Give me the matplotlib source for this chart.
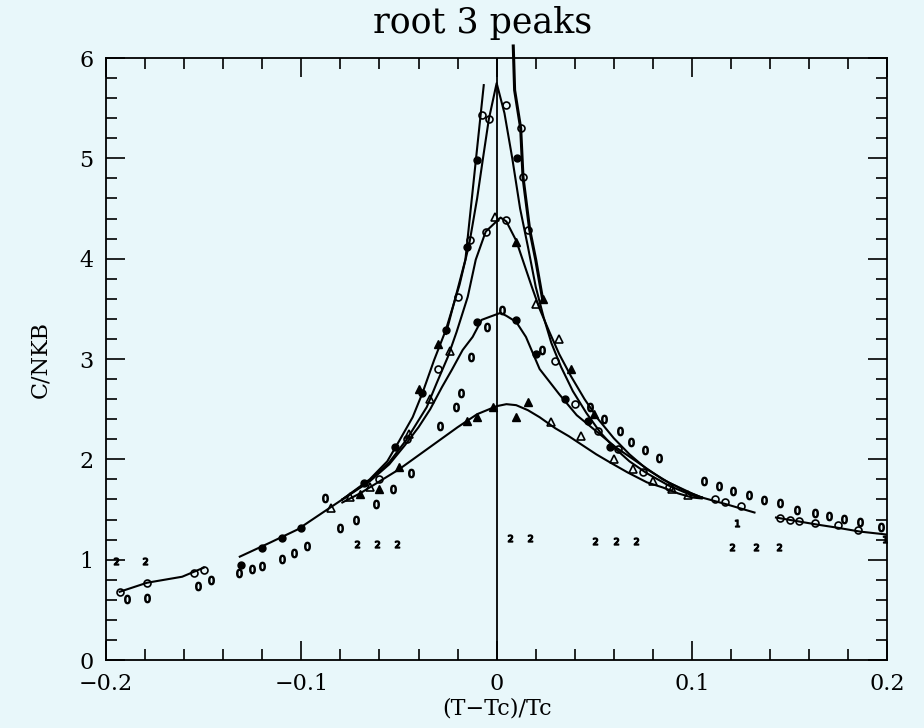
import numpy as np
import matplotlib.pyplot as plt

# smooth curves (x = (T-Tc)/Tc, y = C/NKB)
wing_left1_x = [-0.193, -0.179, -0.161, -0.150]
wing_left1_y = [0.68, 0.77, 0.83, 0.92]
wing_left2_x = [-0.1315, -0.116, -0.102, -0.089, -0.079]
wing_left2_y = [1.03, 1.17, 1.30, 1.47, 1.60]
wing_right1_x = [0.105, 0.118, 0.132]
wing_right1_y = [1.62, 1.55, 1.47]
wing_right2_x = [0.143, 0.164, 0.174, 0.186, 0.200]
wing_right2_y = [1.42, 1.35, 1.32, 1.28, 1.25]

a1_x = [-0.079, -0.065, -0.056, -0.050, -0.043, -0.038, -0.032, -0.026, -0.019,
        -0.014, -0.010, -0.007, -0.004, 0.0, 0.004, 0.008, 0.012, 0.016, 0.020,
        0.024, 0.028, 0.033, 0.039, 0.046, 0.053, 0.060, 0.068, 0.077, 0.088,
        0.100, 0.105]
a1_y = [1.60, 1.80, 1.98, 2.18, 2.42, 2.66, 2.99, 3.29, 3.74,
        4.15, 4.60, 5.00, 5.39, 5.75, 5.45, 5.00, 4.50, 4.12, 3.72,
        3.42, 3.16, 2.92, 2.68, 2.46, 2.27, 2.12, 1.98, 1.86, 1.74,
        1.64, 1.62]

a2_left_x = [-0.026, -0.016, -0.0066]
a2_left_y = [3.25, 3.99, 5.73]
a2_right_x = [0.0085, 0.0092, 0.0123, 0.0135, 0.0169, 0.020, 0.0235]
a2_right_y = [6.12, 5.68, 5.30, 4.81, 4.29, 3.99, 3.60]

b_x = [-0.079, -0.065, -0.055, -0.046, -0.0358, -0.0307, -0.025, -0.0205,
       -0.0148, -0.0107, -0.0056, 0.002, 0.005, 0.010, 0.014, 0.018, 0.022,
       0.027, 0.032, 0.038, 0.045, 0.052, 0.060, 0.068, 0.077, 0.088, 0.100, 0.105]
b_y = [1.60, 1.79, 1.97, 2.20, 2.52, 2.76, 3.02, 3.27,
       3.62, 3.99, 4.27, 4.41, 4.37, 4.18, 3.95, 3.72, 3.50,
       3.27, 3.05, 2.83, 2.60, 2.40, 2.21, 2.05, 1.90, 1.77, 1.66, 1.62]

c_x = [-0.079, -0.065, -0.055, -0.047, -0.040, -0.034, -0.028, -0.023, -0.0174,
       -0.0123, -0.0077, -0.0036, 0.002, 0.005, 0.010, 0.015, 0.022, 0.032,
       0.041, 0.051, 0.061, 0.073, 0.085, 0.097, 0.105]
c_y = [1.60, 1.78, 1.95, 2.14, 2.32, 2.50, 2.72, 2.89, 3.09,
       3.22, 3.39, 3.42, 3.46, 3.43, 3.37, 3.22, 2.90, 2.65,
       2.44, 2.28, 2.12, 1.96, 1.80, 1.68, 1.62]

d_x = [-0.079, -0.070, -0.060, -0.050, -0.040, -0.030, -0.020, -0.010, 0.0,
       0.005, 0.010, 0.016, 0.022, 0.030, 0.037, 0.044, 0.051, 0.058, 0.067,
       0.077, 0.085, 0.093, 0.100, 0.105]
d_y = [1.57, 1.66, 1.78, 1.90, 2.04, 2.18, 2.32, 2.45, 2.53,
       2.55, 2.54, 2.49, 2.42, 2.31, 2.23, 2.14, 2.05, 1.97, 1.87,
       1.77, 1.72, 1.66, 1.62, 1.61]

# data symbols
open_circ_x = [-0.0077, -0.004, 0.005, 0.0123, 0.0133, 0.016, -0.0138, -0.0056, 0.005,
               -0.020, -0.030, 0.030, 0.040, 0.052, 0.062, -0.046, -0.060, 0.075,
               -0.193, -0.179, -0.155, -0.150, 0.088, 0.112, 0.117, 0.125, 0.145,
               0.150, 0.155, 0.163, 0.175, 0.185]
open_circ_y = [5.43, 5.39, 5.53, 5.30, 4.81, 4.29, 4.19, 4.27, 4.39,
               3.62, 2.90, 2.98, 2.55, 2.28, 2.10, 2.20, 1.80, 1.87,
               0.68, 0.77, 0.87, 0.90, 1.72, 1.60, 1.57, 1.53, 1.42,
               1.40, 1.39, 1.37, 1.35, 1.30]
fill_circ_x = [-0.0102, -0.015, 0.0102, -0.026, -0.038, -0.010, 0.010, 0.020,
               0.035, 0.047, -0.052, -0.068, -0.100, -0.110, -0.120, -0.131, 0.058]
fill_circ_y = [4.98, 4.12, 5.00, 3.29, 2.66, 3.37, 3.39, 3.05,
               2.60, 2.38, 2.12, 1.76, 1.32, 1.22, 1.12, 0.95, 2.12]
open_tri_x = [-0.001, -0.024, -0.034, -0.045, -0.075, -0.085, 0.028, 0.043, 0.060,
              0.070, 0.080, 0.090, 0.098, -0.065, 0.020, 0.032]
open_tri_y = [4.42, 3.08, 2.60, 2.25, 1.62, 1.52, 2.37, 2.23, 2.00,
              1.90, 1.78, 1.70, 1.64, 1.72, 3.55, 3.20]
fill_tri_x = [0.010, 0.0235, -0.030, -0.040, -0.050, -0.060, -0.015, -0.010,
              -0.002, 0.016, 0.010, -0.070, 0.038, 0.050]
fill_tri_y = [4.17, 3.60, 3.15, 2.70, 1.92, 1.70, 2.38, 2.42,
              2.52, 2.57, 2.42, 1.65, 2.90, 2.45]

zero_x = [-0.189, -0.179, -0.153, -0.146, -0.132, -0.125, -0.120, -0.110, -0.104,
          -0.097, -0.088, -0.080, -0.072, -0.062, -0.053, -0.044, -0.029, -0.021,
          -0.018, -0.013, -0.005, 0.0026, 0.023, 0.048, 0.055, 0.063, 0.069,
          0.076, 0.083, 0.106, 0.114, 0.121, 0.129, 0.137, 0.145, 0.154, 0.163,
          0.170, 0.178, 0.186, 0.197]
zero_y = [0.61, 0.62, 0.74, 0.80, 0.87, 0.91, 0.94, 1.01, 1.07,
          1.14, 1.61, 1.32, 1.40, 1.55, 1.70, 1.86, 2.33, 2.52,
          2.66, 3.02, 3.32, 3.49, 3.09, 2.52, 2.40, 2.28, 2.17,
          2.09, 2.01, 1.78, 1.73, 1.68, 1.64, 1.59, 1.56, 1.50, 1.47,
          1.44, 1.41, 1.38, 1.33]
two_x = [-0.195, -0.180, -0.0716, -0.0614, -0.0512, 0.0066, 0.0169,
         0.0506, 0.0609, 0.0711, 0.1207, 0.133, 0.1448]
two_y = [0.99, 0.99, 1.16, 1.16, 1.16, 1.22, 1.22,
         1.19, 1.19, 1.19, 1.13, 1.13, 1.13]
one_x = [0.123, 0.199]
one_y = [1.37, 1.21]

bg = '#e8f7fa'
fig = plt.figure(figsize=(9.24, 7.28), dpi=100, facecolor=bg)
ax = fig.add_axes([0.1147, 0.0934, 0.8456, 0.8269], facecolor=bg)

lw = 1.5
for xs, ys in [(wing_left1_x, wing_left1_y), (wing_left2_x, wing_left2_y),
               (wing_right1_x, wing_right1_y), (wing_right2_x, wing_right2_y),
               (a1_x, a1_y), (a2_left_x, a2_left_y), (b_x, b_y), (c_x, c_y), (d_x, d_y)]:
    ax.plot(xs, ys, color='black', lw=lw)
ax.plot(a2_right_x, a2_right_y, color='black', lw=2.2, clip_on=False)

ax.axvline(0, color='black', lw=1.3)

ax.plot(open_circ_x, open_circ_y, ls='none', marker='o', ms=5, mfc='none', mec='black', mew=1.2)
ax.plot(fill_circ_x, fill_circ_y, ls='none', marker='o', ms=5, color='black')
ax.plot(open_tri_x, open_tri_y, ls='none', marker='^', ms=6, mfc='none', mec='black', mew=1.2)
ax.plot(fill_tri_x, fill_tri_y, ls='none', marker='^', ms=6, color='black')
ax.plot(zero_x, zero_y, ls='none', marker='$0$', ms=6, color='black')
ax.plot(two_x, two_y, ls='none', marker='$2$', ms=5, color='black')
ax.plot(one_x, one_y, ls='none', marker='$1$', ms=5, color='black')

ax.set_xlim(-0.2, 0.2)
ax.set_ylim(0, 6)
ax.set_xticks([-0.2, -0.1, 0, 0.1, 0.2])
ax.set_xticklabels(['\u22120.2', '\u22120.1', '0', '0.1', '0.2'])
ax.set_xticks(np.arange(-0.2, 0.201, 0.02), minor=True)
ax.set_yticks([0, 1, 2, 3, 4, 5, 6])
ax.set_yticks(np.arange(0, 6.01, 0.2), minor=True)
ax.tick_params(which='both', direction='in', top=True, right=True, width=1.2,
               labelsize=16, labelfontfamily='DejaVu Serif')
ax.tick_params(which='major', length=14)
ax.tick_params(which='minor', length=8)
ax.tick_params(axis='x', which='major', pad=9)
ax.tick_params(axis='y', which='major', pad=9)
for s in ax.spines.values():
    s.set_linewidth(1.3)

ax.set_xlabel('(T\u2212Tc)/Tc', family='DejaVu Serif', fontsize=16, labelpad=2)
ax.set_ylabel('C/NKB', family='DejaVu Serif', fontsize=16, labelpad=20)
fig.text(0.522, 0.968, 'root 3 peaks', family='DejaVu Serif', fontsize=25,
         fontweight='light', ha='center', va='center')

plt.savefig('out.png', dpi=100, facecolor=bg)
